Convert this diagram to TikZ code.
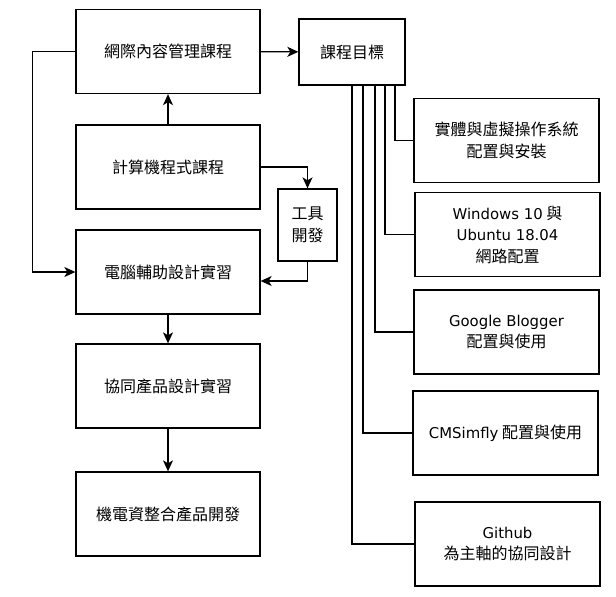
\documentclass[tikz,border=0pt]{standalone}
\usepackage{fontspec}
\setmainfont{Noto Sans CJK TC}
\newfontfamily\latinfont{DejaVu Sans}[Scale=0.93]
\newcommand{\en}[1]{{\latinfont #1}}
\usetikzlibrary{arrows.meta}
\begin{document}
\begin{tikzpicture}[x=1pt, y=-1pt, line width=1.3pt,
    box/.style={draw, align=center, inner sep=0pt, font=\fontsize{16}{21.5}\selectfont},
    course/.style={box, minimum width=184pt, minimum height=84pt},
    topic/.style={box, minimum width=185pt, minimum height=84pt},
    flow/.style={-{Stealth[length=11pt, width=10pt, inset=3pt]}}]
    \useasboundingbox (0,0) rectangle (616,597);
    \node[course] (web) at (168,51.5) {網際內容管理課程};
    \node[course] (prog) at (168,167) {計算機程式課程};
    \node[course] (cad) at (168,272) {電腦輔助設計實習};
    \node[course] (cpd) at (168,386) {協同產品設計實習};
    \node[course] (mech) at (168,514) {機電資整合產品開發};
    \node[box, minimum width=59pt, minimum height=72pt] (tool) at (307.5,225) {工具\\開發};
    \node[box, minimum width=106pt, minimum height=66pt] (goal) at (352,52) {課程目標};
    \node[topic] (os) at (506.5,140.5) {實體與虛擬操作系統\\配置與安裝};
    \node[topic] (net) at (507.5,234.5) {\en{Windows 10} 與\\\en{Ubuntu 18.04}\\網路配置};
    \node[topic] (blog) at (506.5,332) {\en{Google Blogger}\\配置與使用};
    \node[topic] (cms) at (505.5,433) {\en{CMSimfly} 配置與使用};
    \node[topic] (git) at (507.5,544) {\en{Github}\\為主軸的協同設計};
    \draw[flow] (web) -- (goal);
    \draw[flow] (prog) -- (web);
    \draw[flow] (prog.east) -| (tool.north);
    \draw[flow] (tool.south) |- ([yshift=-9pt]cad.east);
    \draw[flow] (web.west) -- ++(-43,0) |- (cad.west);
    \draw[flow] (cad) -- (cpd);
    \draw[flow] (cpd) -- (mech);
    \draw ([xshift=43pt]goal.south) |- (os.west);
    \draw ([xshift=33pt]goal.south) |- (net.west);
    \draw ([xshift=23pt]goal.south) |- (blog.west);
    \draw ([xshift=11pt]goal.south) |- (cms.west);
    \draw (goal.south) |- (git.west);
\end{tikzpicture}
\end{document}
